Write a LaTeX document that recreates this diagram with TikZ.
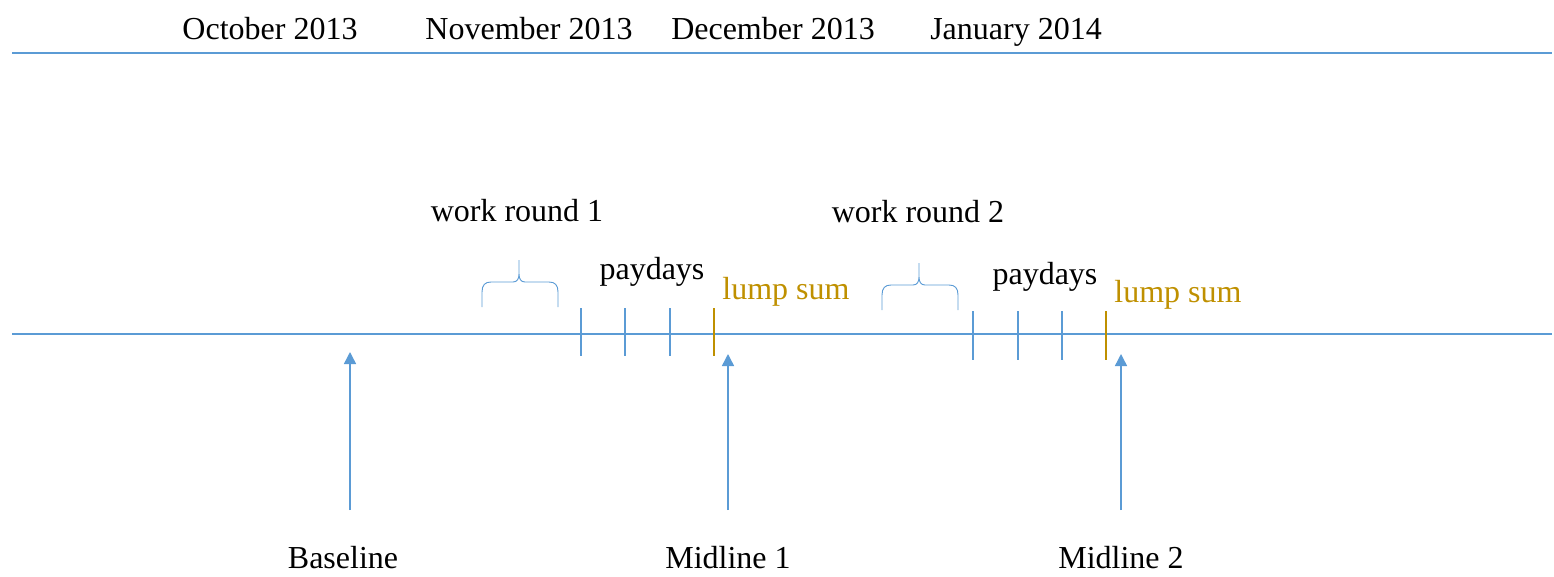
\documentclass[tikz,border=0pt]{standalone}
\usepackage{fontspec}
\setmainfont{Liberation Serif}
\usetikzlibrary{arrows.meta}
\definecolor{lineblue}{HTML}{5B9BD5}
\definecolor{lumpgold}{HTML}{BF9000}
\tikzset{
  tline/.style={draw=lineblue, line width=1.3pt},
  payday/.style={draw=lineblue, line width=0.9pt},
  lumpday/.style={draw=lumpgold, line width=0.9pt},
  roundbrace/.style={draw=lineblue, line width=0.7pt},
  uparrow/.style={draw=lineblue, line width=1.1pt, -{Triangle[width=9pt,length=9pt]}},
  lbl/.style={anchor=base, inner sep=0pt, font=\fontsize{24}{28}\selectfont},
  lumplbl/.style={lbl, text=lumpgold}
}
\begin{document}
\begin{tikzpicture}[x=0.75pt, y=-0.75pt]
            \useasboundingbox (0,0) rectangle (1554,576);

            % months
            \node (oct) at (270,39) [lbl] {October 2013};
            \node (nov) at (529,39) [lbl] {November 2013};
            \node (dec) at (773,39) [lbl] {December 2013};
            \node (jan) at (1016,39) [lbl] {January 2014};
            \draw[tline] (12,53) -- (1552,53);

            % timeline
            \draw[tline] (12,334) -- (1552,334);

            % round 1
            \node (wr1) at (517,221) [lbl] {work round 1};
            \node (pd1) at (652,279) [lbl] {paydays};
            \node (ls1) at (786,299) [lumplbl] {lump sum};
            \foreach \x in {581,625,670}
                \draw[payday] (\x,308) -- (\x,356);
            \draw[lumpday] (714,308) -- (714,356);

            % round 2
            \node (wr2) at (918,222) [lbl] {work round 2};
            \node (pd2) at (1045,284) [lbl] {paydays};
            \node (ls2) at (1178,302) [lumplbl] {lump sum};
            \foreach \x in {973,1018,1062}
                \draw[payday] (\x,311) -- (\x,360);
            \draw[lumpday] (1106,311) -- (1106,360);

            % braces
            \foreach \bx/\by in {482/307, 882/310} {
                \draw[roundbrace, shift={(\bx,\by)}]
                    (0,0) -- (0,-15) .. controls (0,-22) and (3,-25) .. (9,-25)
                    -- (31,-25) .. controls (35,-25) and (37,-28) .. (37,-33) -- (37,-47)
                    (37,-33) .. controls (37,-28) and (39,-25) .. (43,-25)
                    -- (67,-25) .. controls (73,-25) and (76,-22) .. (76,-15) -- (76,0);
            }

            % survey points
            \node (base) at (343,568) [lbl] {Baseline};
            \node (mid1) at (728,568) [lbl] {Midline 1};
            \node (mid2) at (1121,568) [lbl] {Midline 2};
            \coordinate (base foot) at (350,510);
            \coordinate (base tip) at (350,352);
            \coordinate (mid1 foot) at (728,510);
            \coordinate (mid1 tip) at (728,354);
            \coordinate (mid2 foot) at (1121,510);
            \coordinate (mid2 tip) at (1121,354);
            \draw[uparrow] (base foot) -- (base tip);
            \draw[uparrow] (mid1 foot) -- (mid1 tip);
            \draw[uparrow] (mid2 foot) -- (mid2 tip);

        \end{tikzpicture}
\end{document}
